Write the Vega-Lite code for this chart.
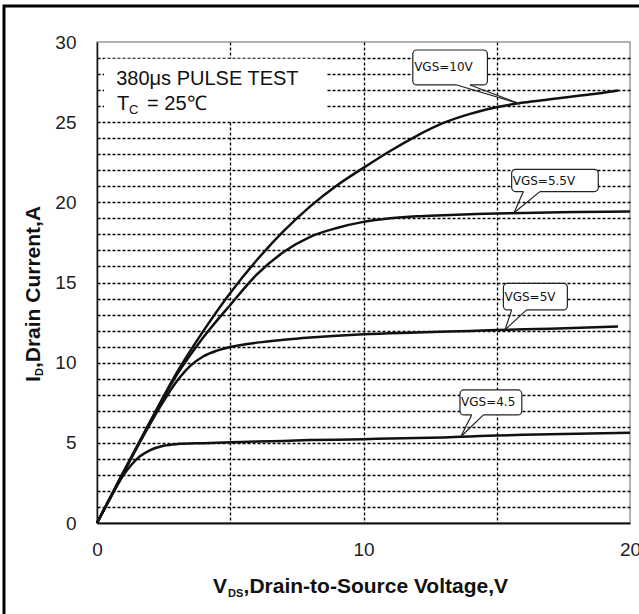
{
  "$schema": "https://vega.github.io/schema/vega-lite/v6.json",
  "width": 533,
  "height": 481,
  "autosize": {"type": "none"},
  "padding": {"left": 97, "top": 42, "right": 9, "bottom": 91},
  "background": "white",
  "config": {
    "view": {"stroke": "#999", "strokeWidth": 1.5},
    "font": "Liberation Sans",
    "axis": {"grid": true, "gridDash": [3, 2], "gridColor": "#000", "gridWidth": 1.3, "ticks": false, "tickSize": 0, "labelFontSize": 19, "labelColor": "#222", "labelFont": "Liberation Sans", "labelOverlap": false, "labelFlush": false, "domainColor": "#111", "title": null},
    "axisX": {"labelPadding": 17, "domainWidth": 2},
    "axisY": {"labelPadding": 21, "domainWidth": 1.5}
  },
  "datasets": {
    "curves": [
      {"vgs": "10V", "v": 0, "i": 0}, {"vgs": "10V", "v": 1, "i": 3.2}, {"vgs": "10V", "v": 2, "i": 6.35}, {"vgs": "10V", "v": 3, "i": 9.4}, {"vgs": "10V", "v": 4, "i": 12.0}, {"vgs": "10V", "v": 5, "i": 14.35}, {"vgs": "10V", "v": 6, "i": 16.4}, {"vgs": "10V", "v": 7, "i": 18.2}, {"vgs": "10V", "v": 8, "i": 19.75}, {"vgs": "10V", "v": 9, "i": 21.05}, {"vgs": "10V", "v": 10, "i": 22.15}, {"vgs": "10V", "v": 11, "i": 23.2}, {"vgs": "10V", "v": 12, "i": 24.15}, {"vgs": "10V", "v": 13, "i": 24.95}, {"vgs": "10V", "v": 14, "i": 25.52}, {"vgs": "10V", "v": 15, "i": 25.93}, {"vgs": "10V", "v": 16, "i": 26.22}, {"vgs": "10V", "v": 17, "i": 26.43}, {"vgs": "10V", "v": 18, "i": 26.63}, {"vgs": "10V", "v": 19, "i": 26.83}, {"vgs": "10V", "v": 19.56, "i": 26.97},
      {"vgs": "5.5V", "v": 0, "i": 0}, {"vgs": "5.5V", "v": 1, "i": 3.2}, {"vgs": "5.5V", "v": 2, "i": 6.3}, {"vgs": "5.5V", "v": 3, "i": 9.25}, {"vgs": "5.5V", "v": 4, "i": 11.6}, {"vgs": "5.5V", "v": 5, "i": 13.6}, {"vgs": "5.5V", "v": 6, "i": 15.5}, {"vgs": "5.5V", "v": 7, "i": 16.9}, {"vgs": "5.5V", "v": 8, "i": 17.85}, {"vgs": "5.5V", "v": 9, "i": 18.4}, {"vgs": "5.5V", "v": 10, "i": 18.78}, {"vgs": "5.5V", "v": 11, "i": 19.0}, {"vgs": "5.5V", "v": 12, "i": 19.13}, {"vgs": "5.5V", "v": 13, "i": 19.2}, {"vgs": "5.5V", "v": 14, "i": 19.26}, {"vgs": "5.5V", "v": 15, "i": 19.31}, {"vgs": "5.5V", "v": 16, "i": 19.34}, {"vgs": "5.5V", "v": 18, "i": 19.39}, {"vgs": "5.5V", "v": 20, "i": 19.43},
      {"vgs": "5V", "v": 0, "i": 0}, {"vgs": "5V", "v": 1, "i": 3.15}, {"vgs": "5V", "v": 2, "i": 6.2}, {"vgs": "5V", "v": 2.5, "i": 7.6}, {"vgs": "5V", "v": 3, "i": 8.85}, {"vgs": "5V", "v": 3.5, "i": 9.8}, {"vgs": "5V", "v": 4, "i": 10.4}, {"vgs": "5V", "v": 4.5, "i": 10.75}, {"vgs": "5V", "v": 5, "i": 10.98}, {"vgs": "5V", "v": 6, "i": 11.25}, {"vgs": "5V", "v": 7, "i": 11.43}, {"vgs": "5V", "v": 8, "i": 11.57}, {"vgs": "5V", "v": 9, "i": 11.68}, {"vgs": "5V", "v": 10, "i": 11.77}, {"vgs": "5V", "v": 12, "i": 11.88}, {"vgs": "5V", "v": 14, "i": 11.98}, {"vgs": "5V", "v": 15, "i": 12.03}, {"vgs": "5V", "v": 17, "i": 12.12}, {"vgs": "5V", "v": 19.55, "i": 12.25},
      {"vgs": "4.5V", "v": 0, "i": 0}, {"vgs": "4.5V", "v": 0.5, "i": 1.55}, {"vgs": "4.5V", "v": 1, "i": 3.0}, {"vgs": "4.5V", "v": 1.3, "i": 3.65}, {"vgs": "4.5V", "v": 1.6, "i": 4.15}, {"vgs": "4.5V", "v": 2, "i": 4.55}, {"vgs": "4.5V", "v": 2.5, "i": 4.82}, {"vgs": "4.5V", "v": 3, "i": 4.92}, {"vgs": "4.5V", "v": 4, "i": 4.98}, {"vgs": "4.5V", "v": 5, "i": 5.03}, {"vgs": "4.5V", "v": 6, "i": 5.08}, {"vgs": "4.5V", "v": 7, "i": 5.12}, {"vgs": "4.5V", "v": 8, "i": 5.17}, {"vgs": "4.5V", "v": 9, "i": 5.2}, {"vgs": "4.5V", "v": 10, "i": 5.23}, {"vgs": "4.5V", "v": 11, "i": 5.27}, {"vgs": "4.5V", "v": 12, "i": 5.3}, {"vgs": "4.5V", "v": 13, "i": 5.34}, {"vgs": "4.5V", "v": 14, "i": 5.4}, {"vgs": "4.5V", "v": 15, "i": 5.46}, {"vgs": "4.5V", "v": 16, "i": 5.5}, {"vgs": "4.5V", "v": 17, "i": 5.53}, {"vgs": "4.5V", "v": 18, "i": 5.57}, {"vgs": "4.5V", "v": 19, "i": 5.6}, {"vgs": "4.5V", "v": 20, "i": 5.63}
    ],
    "callouts": [
      {"label": "VGS=10V", "x1": 11.85, "x2": 14.65, "y1": 27.32, "y2": 29.5, "tx": 11.9, "ty": 28.45, "g1": 13.5, "g2": 14.0},
      {"label": "VGS=5.5V", "x1": 15.56, "x2": 18.81, "y1": 20.67, "y2": 22.06, "tx": 15.6, "ty": 21.35, "g1": 16.0, "g2": 16.62},
      {"label": "VGS=5V", "x1": 15.25, "x2": 17.65, "y1": 13.29, "y2": 14.95, "tx": 15.29, "ty": 14.12, "g1": 15.56, "g2": 16.12},
      {"label": "VGS=4.5", "x1": 13.62, "x2": 15.94, "y1": 6.74, "y2": 8.3, "tx": 13.66, "ty": 7.52, "g1": 14.06, "g2": 14.5}
    ],
    "pointers": [
      {"label": "VGS=10V", "bx": 13.5, "by": 27.32, "px": 15.87, "py": 26.14},
      {"label": "VGS=10V", "bx": 14.0, "by": 27.32, "px": 15.87, "py": 26.14},
      {"label": "VGS=5.5V", "bx": 16.0, "by": 20.67, "px": 15.65, "py": 19.35},
      {"label": "VGS=5.5V", "bx": 16.62, "by": 20.67, "px": 15.65, "py": 19.35},
      {"label": "VGS=5V", "bx": 15.56, "by": 13.29, "px": 15.31, "py": 12.05},
      {"label": "VGS=5V", "bx": 16.12, "by": 13.29, "px": 15.31, "py": 12.05},
      {"label": "VGS=4.5", "bx": 14.06, "by": 6.74, "px": 13.65, "py": 5.38},
      {"label": "VGS=4.5", "bx": 14.5, "by": 6.74, "px": 13.65, "py": 5.38}
    ],
    "notebox": [{"x1": 0.26, "x2": 8.59, "y1": 25.08, "y2": 28.95}],
    "bigtext": [
      {"txt": "380μs PULSE TEST", "x": 0.72, "y": 27.32},
      {"txt": "T", "x": 0.75, "y": 25.76},
      {"txt": "= 25℃", "x": 1.88, "y": 25.76}
    ],
    "subtext": [{"txt": "C", "x": 1.2, "y": 25.5}],
    "xtitle": [
      {"txt": "V", "x": 4.35, "y": -4.37},
      {"txt": ",Drain-to-Source Voltage,V", "x": 5.5, "y": -4.37}
    ],
    "xtitlesub": [{"txt": "DS", "x": 4.92, "y": -4.6}],
    "ytitle": [
      {"txt": "I", "x": -2.14, "y": 8.8},
      {"txt": ",Drain Current,A", "x": -2.14, "y": 9.66}
    ],
    "ytitlesub": [{"txt": "D", "x": -2.03, "y": 9.17}],
    "frame": [{"x1": -3.49, "x2": 21.5, "y1": -8, "y2": 32.25}]
  },
  "layer": [
    {
      "data": {"name": "curves"},
      "mark": {"type": "line", "color": "#111", "strokeWidth": 2.5, "interpolate": "monotone"},
      "encoding": {
        "x": {"field": "v", "type": "quantitative", "scale": {"domain": [0, 20], "nice": false},
          "axis": {"values": [0, 5, 10, 15, 20], "labelExpr": "datum.value % 10 == 0 ? datum.label : ''", "gridOpacity": {"condition": {"test": "datum.value == 0 || datum.value == 20", "value": 0}, "value": 1}}},
        "y": {"field": "i", "type": "quantitative", "scale": {"domain": [0, 30], "nice": false},
          "axis": {"values": [0, 1, 2, 3, 4, 5, 6, 7, 8, 9, 10, 11, 12, 13, 14, 15, 16, 17, 18, 19, 20, 21, 22, 23, 24, 25, 26, 27, 28, 29, 30], "labelExpr": "datum.value % 5 == 0 ? datum.label : ''", "gridOpacity": {"condition": {"test": "datum.value == 0 || datum.value == 30", "value": 0}, "value": 1}}},
        "detail": {"field": "vgs"}
      }
    },
    {
      "data": {"name": "notebox"},
      "mark": {"type": "rect", "fill": "white", "strokeWidth": 0},
      "encoding": {
        "x": {"field": "x1", "type": "quantitative", "axis": {"values": [0, 5, 10, 15, 20], "labelExpr": "datum.value % 10 == 0 ? datum.label : ''", "gridOpacity": {"condition": {"test": "datum.value == 0 || datum.value == 20", "value": 0}, "value": 1}}}, "x2": {"field": "x2"},
        "y": {"field": "y1", "type": "quantitative", "axis": {"values": [0, 1, 2, 3, 4, 5, 6, 7, 8, 9, 10, 11, 12, 13, 14, 15, 16, 17, 18, 19, 20, 21, 22, 23, 24, 25, 26, 27, 28, 29, 30], "labelExpr": "datum.value % 5 == 0 ? datum.label : ''", "gridOpacity": {"condition": {"test": "datum.value == 0 || datum.value == 30", "value": 0}, "value": 1}}}, "y2": {"field": "y2"}
      }
    },
    {
      "data": {"name": "callouts"},
      "mark": {"type": "rect", "fill": "white", "stroke": "#222", "strokeWidth": 1.2, "cornerRadius": 4},
      "encoding": {
        "x": {"field": "x1", "type": "quantitative", "axis": {"values": [0, 5, 10, 15, 20], "labelExpr": "datum.value % 10 == 0 ? datum.label : ''", "gridOpacity": {"condition": {"test": "datum.value == 0 || datum.value == 20", "value": 0}, "value": 1}}}, "x2": {"field": "x2"},
        "y": {"field": "y1", "type": "quantitative", "axis": {"values": [0, 1, 2, 3, 4, 5, 6, 7, 8, 9, 10, 11, 12, 13, 14, 15, 16, 17, 18, 19, 20, 21, 22, 23, 24, 25, 26, 27, 28, 29, 30], "labelExpr": "datum.value % 5 == 0 ? datum.label : ''", "gridOpacity": {"condition": {"test": "datum.value == 0 || datum.value == 30", "value": 0}, "value": 1}}}, "y2": {"field": "y2"}
      }
    },
    {
      "data": {"name": "callouts"},
      "mark": {"type": "rule", "color": "white", "strokeWidth": 2.5},
      "encoding": {
        "x": {"field": "g1", "type": "quantitative", "axis": {"values": [0, 5, 10, 15, 20], "labelExpr": "datum.value % 10 == 0 ? datum.label : ''", "gridOpacity": {"condition": {"test": "datum.value == 0 || datum.value == 20", "value": 0}, "value": 1}}}, "x2": {"field": "g2"},
        "y": {"field": "y1", "type": "quantitative", "axis": {"values": [0, 1, 2, 3, 4, 5, 6, 7, 8, 9, 10, 11, 12, 13, 14, 15, 16, 17, 18, 19, 20, 21, 22, 23, 24, 25, 26, 27, 28, 29, 30], "labelExpr": "datum.value % 5 == 0 ? datum.label : ''", "gridOpacity": {"condition": {"test": "datum.value == 0 || datum.value == 30", "value": 0}, "value": 1}}}
      }
    },
    {
      "data": {"name": "pointers"},
      "mark": {"type": "rule", "color": "#222", "strokeWidth": 1.2},
      "encoding": {
        "x": {"field": "bx", "type": "quantitative", "axis": {"values": [0, 5, 10, 15, 20], "labelExpr": "datum.value % 10 == 0 ? datum.label : ''", "gridOpacity": {"condition": {"test": "datum.value == 0 || datum.value == 20", "value": 0}, "value": 1}}}, "x2": {"field": "px"},
        "y": {"field": "by", "type": "quantitative", "axis": {"values": [0, 1, 2, 3, 4, 5, 6, 7, 8, 9, 10, 11, 12, 13, 14, 15, 16, 17, 18, 19, 20, 21, 22, 23, 24, 25, 26, 27, 28, 29, 30], "labelExpr": "datum.value % 5 == 0 ? datum.label : ''", "gridOpacity": {"condition": {"test": "datum.value == 0 || datum.value == 30", "value": 0}, "value": 1}}}, "y2": {"field": "py"}
      }
    },
    {
      "data": {"name": "callouts"},
      "mark": {"type": "text", "align": "left", "baseline": "middle", "font": "DejaVu Sans", "fontSize": 12, "color": "#111"},
      "encoding": {
        "x": {"field": "tx", "type": "quantitative", "axis": {"values": [0, 5, 10, 15, 20], "labelExpr": "datum.value % 10 == 0 ? datum.label : ''", "gridOpacity": {"condition": {"test": "datum.value == 0 || datum.value == 20", "value": 0}, "value": 1}}},
        "y": {"field": "ty", "type": "quantitative", "axis": {"values": [0, 1, 2, 3, 4, 5, 6, 7, 8, 9, 10, 11, 12, 13, 14, 15, 16, 17, 18, 19, 20, 21, 22, 23, 24, 25, 26, 27, 28, 29, 30], "labelExpr": "datum.value % 5 == 0 ? datum.label : ''", "gridOpacity": {"condition": {"test": "datum.value == 0 || datum.value == 30", "value": 0}, "value": 1}}},
        "text": {"field": "label"}
      }
    },
    {
      "data": {"name": "bigtext"},
      "mark": {"type": "text", "align": "left", "baseline": "alphabetic", "font": "Liberation Sans", "fontSize": 20, "color": "#111"},
      "encoding": {
        "x": {"field": "x", "type": "quantitative", "axis": {"values": [0, 5, 10, 15, 20], "labelExpr": "datum.value % 10 == 0 ? datum.label : ''", "gridOpacity": {"condition": {"test": "datum.value == 0 || datum.value == 20", "value": 0}, "value": 1}}},
        "y": {"field": "y", "type": "quantitative", "axis": {"values": [0, 1, 2, 3, 4, 5, 6, 7, 8, 9, 10, 11, 12, 13, 14, 15, 16, 17, 18, 19, 20, 21, 22, 23, 24, 25, 26, 27, 28, 29, 30], "labelExpr": "datum.value % 5 == 0 ? datum.label : ''", "gridOpacity": {"condition": {"test": "datum.value == 0 || datum.value == 30", "value": 0}, "value": 1}}},
        "text": {"field": "txt"}
      }
    },
    {
      "data": {"name": "subtext"},
      "mark": {"type": "text", "align": "left", "baseline": "alphabetic", "font": "Liberation Sans", "fontSize": 13, "color": "#111"},
      "encoding": {
        "x": {"field": "x", "type": "quantitative", "axis": {"values": [0, 5, 10, 15, 20], "labelExpr": "datum.value % 10 == 0 ? datum.label : ''", "gridOpacity": {"condition": {"test": "datum.value == 0 || datum.value == 20", "value": 0}, "value": 1}}},
        "y": {"field": "y", "type": "quantitative", "axis": {"values": [0, 1, 2, 3, 4, 5, 6, 7, 8, 9, 10, 11, 12, 13, 14, 15, 16, 17, 18, 19, 20, 21, 22, 23, 24, 25, 26, 27, 28, 29, 30], "labelExpr": "datum.value % 5 == 0 ? datum.label : ''", "gridOpacity": {"condition": {"test": "datum.value == 0 || datum.value == 30", "value": 0}, "value": 1}}},
        "text": {"field": "txt"}
      }
    },
    {
      "data": {"name": "xtitle"},
      "mark": {"type": "text", "align": "left", "baseline": "alphabetic", "font": "Liberation Sans", "fontSize": 21, "fontWeight": "bold", "color": "#111"},
      "encoding": {
        "x": {"field": "x", "type": "quantitative", "axis": {"values": [0, 5, 10, 15, 20], "labelExpr": "datum.value % 10 == 0 ? datum.label : ''", "gridOpacity": {"condition": {"test": "datum.value == 0 || datum.value == 20", "value": 0}, "value": 1}}},
        "y": {"field": "y", "type": "quantitative", "axis": {"values": [0, 1, 2, 3, 4, 5, 6, 7, 8, 9, 10, 11, 12, 13, 14, 15, 16, 17, 18, 19, 20, 21, 22, 23, 24, 25, 26, 27, 28, 29, 30], "labelExpr": "datum.value % 5 == 0 ? datum.label : ''", "gridOpacity": {"condition": {"test": "datum.value == 0 || datum.value == 30", "value": 0}, "value": 1}}},
        "text": {"field": "txt"}
      }
    },
    {
      "data": {"name": "xtitlesub"},
      "mark": {"type": "text", "align": "left", "baseline": "alphabetic", "font": "Liberation Sans", "fontSize": 11, "fontWeight": "bold", "color": "#111"},
      "encoding": {
        "x": {"field": "x", "type": "quantitative", "axis": {"values": [0, 5, 10, 15, 20], "labelExpr": "datum.value % 10 == 0 ? datum.label : ''", "gridOpacity": {"condition": {"test": "datum.value == 0 || datum.value == 20", "value": 0}, "value": 1}}},
        "y": {"field": "y", "type": "quantitative", "axis": {"values": [0, 1, 2, 3, 4, 5, 6, 7, 8, 9, 10, 11, 12, 13, 14, 15, 16, 17, 18, 19, 20, 21, 22, 23, 24, 25, 26, 27, 28, 29, 30], "labelExpr": "datum.value % 5 == 0 ? datum.label : ''", "gridOpacity": {"condition": {"test": "datum.value == 0 || datum.value == 30", "value": 0}, "value": 1}}},
        "text": {"field": "txt"}
      }
    },
    {
      "data": {"name": "ytitle"},
      "mark": {"type": "text", "align": "left", "baseline": "alphabetic", "angle": 270, "font": "Liberation Sans", "fontSize": 21, "fontWeight": "bold", "color": "#111"},
      "encoding": {
        "x": {"field": "x", "type": "quantitative", "axis": {"values": [0, 5, 10, 15, 20], "labelExpr": "datum.value % 10 == 0 ? datum.label : ''", "gridOpacity": {"condition": {"test": "datum.value == 0 || datum.value == 20", "value": 0}, "value": 1}}},
        "y": {"field": "y", "type": "quantitative", "axis": {"values": [0, 1, 2, 3, 4, 5, 6, 7, 8, 9, 10, 11, 12, 13, 14, 15, 16, 17, 18, 19, 20, 21, 22, 23, 24, 25, 26, 27, 28, 29, 30], "labelExpr": "datum.value % 5 == 0 ? datum.label : ''", "gridOpacity": {"condition": {"test": "datum.value == 0 || datum.value == 30", "value": 0}, "value": 1}}},
        "text": {"field": "txt"}
      }
    },
    {
      "data": {"name": "ytitlesub"},
      "mark": {"type": "text", "align": "left", "baseline": "alphabetic", "angle": 270, "font": "Liberation Sans", "fontSize": 11, "fontWeight": "bold", "color": "#111"},
      "encoding": {
        "x": {"field": "x", "type": "quantitative", "axis": {"values": [0, 5, 10, 15, 20], "labelExpr": "datum.value % 10 == 0 ? datum.label : ''", "gridOpacity": {"condition": {"test": "datum.value == 0 || datum.value == 20", "value": 0}, "value": 1}}},
        "y": {"field": "y", "type": "quantitative", "axis": {"values": [0, 1, 2, 3, 4, 5, 6, 7, 8, 9, 10, 11, 12, 13, 14, 15, 16, 17, 18, 19, 20, 21, 22, 23, 24, 25, 26, 27, 28, 29, 30], "labelExpr": "datum.value % 5 == 0 ? datum.label : ''", "gridOpacity": {"condition": {"test": "datum.value == 0 || datum.value == 30", "value": 0}, "value": 1}}},
        "text": {"field": "txt"}
      }
    },
    {
      "data": {"name": "frame"},
      "mark": {"type": "rect", "fill": null, "fillOpacity": 0, "stroke": "#000", "strokeWidth": 3},
      "encoding": {
        "x": {"field": "x1", "type": "quantitative", "axis": {"values": [0, 5, 10, 15, 20], "labelExpr": "datum.value % 10 == 0 ? datum.label : ''", "gridOpacity": {"condition": {"test": "datum.value == 0 || datum.value == 20", "value": 0}, "value": 1}}}, "x2": {"field": "x2"},
        "y": {"field": "y1", "type": "quantitative", "axis": {"values": [0, 1, 2, 3, 4, 5, 6, 7, 8, 9, 10, 11, 12, 13, 14, 15, 16, 17, 18, 19, 20, 21, 22, 23, 24, 25, 26, 27, 28, 29, 30], "labelExpr": "datum.value % 5 == 0 ? datum.label : ''", "gridOpacity": {"condition": {"test": "datum.value == 0 || datum.value == 30", "value": 0}, "value": 1}}}, "y2": {"field": "y2"}
      }
    }
  ]
}
